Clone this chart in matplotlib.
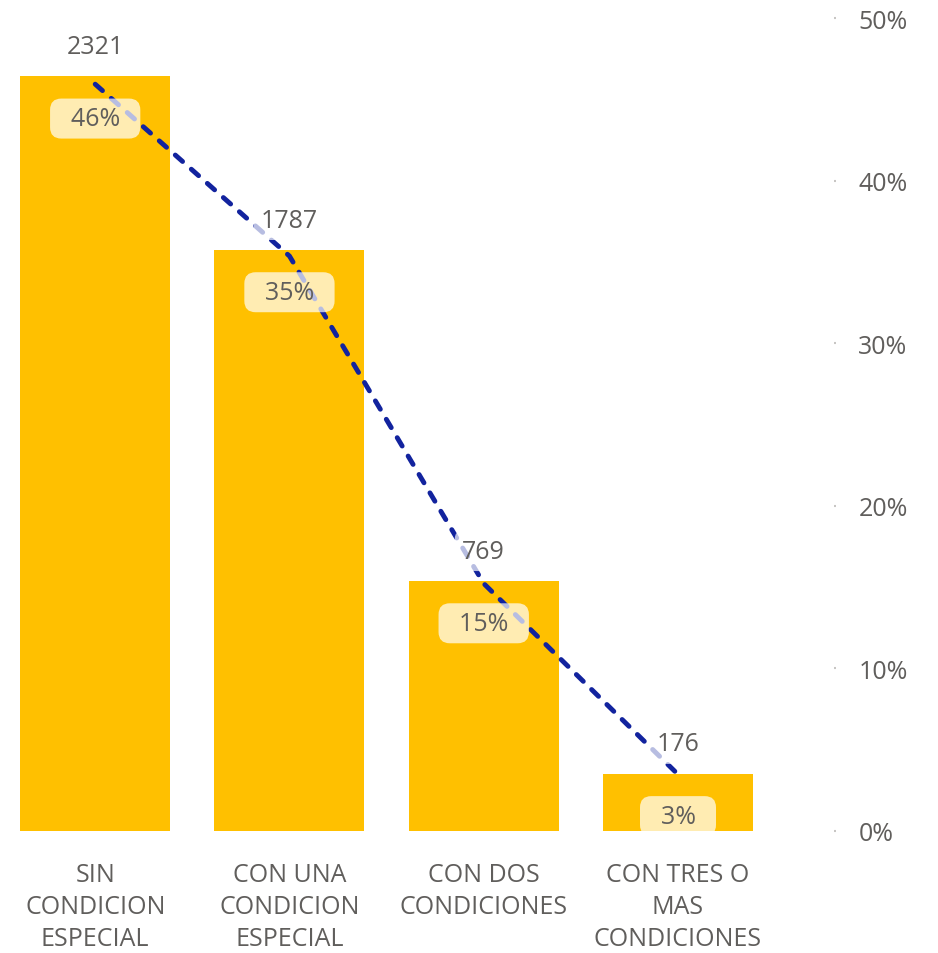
import matplotlib.pyplot as plt
import matplotlib.ticker as mticker

# data
categorias = ['SIN\nCONDICION\nESPECIAL', 'CON UNA\nCONDICION\nESPECIAL',
              'CON DOS\nCONDICIONES', 'CON TRES O\nMAS\nCONDICIONES']
cantidad = [2321, 1787, 769, 176]
porcentaje = [0.4593, 0.3536, 0.1522, 0.0348]

plt.rcParams['font.family'] = ['Open Sans', 'DejaVu Sans']
gris = '#605E5C'
fs = 18

fig = plt.figure(figsize=(9.38, 9.54), dpi=100)
ax = fig.add_axes([0.0, 122 / 954, 834 / 938, 813 / 954])
ax2 = ax.twinx()

x = list(range(len(categorias)))
ax.bar(x, cantidad, width=0.772, color='#FFC000', zorder=1)
ax.set_ylim(0, 2500)
ax.set_xlim(-0.49, 3.803)
ax.set_yticks([])

# linea de porcentaje (eje derecho)
ax2.plot(x, porcentaje, color='#12239E', lw=3.5, linestyle=(0, (2.0, 2.4)),
         dash_capstyle='round', zorder=2)
ax2.set_ylim(0, 0.5)
ax2.set_yticks([0, 0.1, 0.2, 0.3, 0.4, 0.5])
ax2.yaxis.set_major_formatter(mticker.FuncFormatter(lambda v, p: f'{v*100:.0f}%'))
ax2.tick_params(axis='y', length=1.5, width=1.5, color='#C8C6C4', pad=16,
                labelsize=fs, labelcolor=gris)

ax.set_xticks(x)
ax.set_xticklabels(categorias, fontsize=fs, color=gris, linespacing=1.38)
ax.tick_params(axis='x', length=0, pad=22)

for a in (ax, ax2):
    for s in a.spines.values():
        s.set_visible(False)

# etiquetas (encima de la linea)
for i, (c, p) in enumerate(zip(cantidad, porcentaje)):
    ax2.annotate(f'{c}', xy=(i, c), xycoords=ax.transData, xytext=(0, 21.5),
                 textcoords='offset points', ha='center', va='center',
                 fontsize=fs, color=gris, zorder=5,
                 bbox=dict(boxstyle='round,pad=0.3', fc='white', ec='none', alpha=0.7))
    ax2.annotate(f'  {p*100:.0f}%  ', xy=(i, c), xycoords=ax.transData, xytext=(0, -30.5),
                 textcoords='offset points', ha='center', va='center',
                 fontsize=fs, color=gris, zorder=5,
                 bbox=dict(boxstyle='round,pad=0.3,rounding_size=0.45', fc='white',
                           ec='none', alpha=0.7))

fig.savefig('out.png', dpi=100, facecolor='white')
